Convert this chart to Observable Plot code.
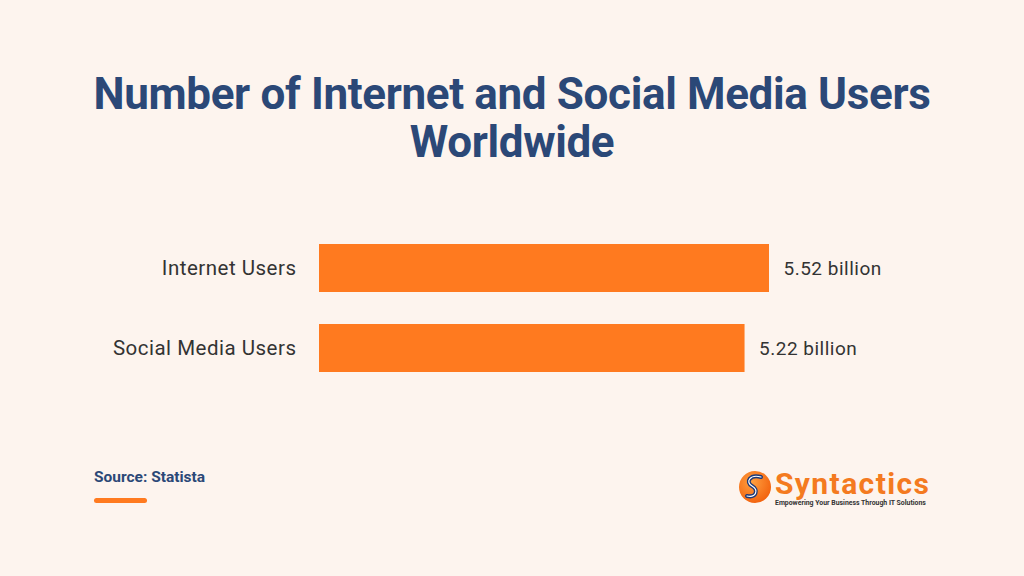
<!DOCTYPE html>
<html>
<head>
<meta charset="utf-8">
<script src="https://cdn.jsdelivr.net/npm/d3@7"></script>
<script src="https://cdn.jsdelivr.net/npm/@observablehq/plot@0.6"></script>
<style>
  html, body { margin: 0; padding: 0; background: #FDF4EE; }
  #page { position: relative; width: 1024px; height: 576px; overflow: hidden; background: #FDF4EE; font-family: Roboto, sans-serif; }
  #title { position: absolute; left: 0; top: 70px; width: 1024px; text-align: center; font-family: Roboto, sans-serif; font-weight: 700; font-size: 44px; line-height: 48px; color: #2B4877; letter-spacing: -0.35px; }
  #chart { position: absolute; left: 0; top: 0; }
  #source { position: absolute; left: 94px; top: 468px; font-family: Roboto, sans-serif; font-weight: 700; font-size: 15.5px; color: #2B4877; }
  #underline { position: absolute; left: 94px; top: 498px; width: 53px; height: 5px; border-radius: 3px; background: #FF7A1F; }
  #logo { position: absolute; left: 736px; top: 464px; }
  #chart text { letter-spacing: 0.5px; }
</style>
</head>
<body>
<div id="page">
  <div id="title">Number of Internet and Social Media Users<br>Worldwide</div>
  <div id="chart"></div>
  <div id="source">Source: Statista</div>
  <div id="underline"></div>
  <svg id="logo" width="220" height="46" viewBox="0 0 220 46">
    <defs>
      <radialGradient id="lg" cx="40%" cy="35%" r="70%">
        <stop offset="0%" stop-color="#FFA040"/>
        <stop offset="100%" stop-color="#F2600C"/>
      </radialGradient>
    </defs>
    <circle cx="19" cy="23" r="16" fill="url(#lg)"/>
    <path d="M25 13 C14 10, 9 18, 16 22 C23 26, 20 34, 11 32" fill="none" stroke="#1E3A78" stroke-width="4" stroke-linecap="round"/>
    <path d="M25 13 C14 10, 9 18, 16 22 C23 26, 20 34, 11 32" fill="none" stroke="#FFFFFF" stroke-width="1.2" stroke-linecap="round"/>
    <text x="39" y="30" font-family="Roboto, sans-serif" font-weight="700" font-size="30" fill="#F47A20" letter-spacing="1.4">Syntactics</text>
    <text x="39" y="41" font-family="Roboto, sans-serif" font-weight="700" font-size="6.9" fill="#333">Empowering Your Business Through IT Solutions</text>
  </svg>
</div>
<script>
const categories = ["Internet Users", "Social Media Users"];
const values = [5.52, 5.22];
const valueLabels = ["5.52 billion", "5.22 billion"];

const data = categories.map((c, i) => ({category: c, value: values[i], label: valueLabels[i]}));

const chart = Plot.plot({
  width: 1024,
  height: 576,
  marginLeft: 319,
  marginRight: 255,
  marginTop: 243,
  marginBottom: 203,
  style: {background: "transparent", fontFamily: "Roboto, sans-serif"},
  x: {domain: [0, 5.52], axis: null},
  y: {domain: categories, paddingInner: 0.395, paddingOuter: 0, label: null},
  marks: [
    Plot.barX(data, {y: "category", x: "value", fill: "#FF7A1F"}),
    Plot.axisY({tickSize: 0, tickPadding: 23, fontSize: 20.5, fill: "#333333", label: null}),
    Plot.text(data, {y: "category", x: "value", text: "label", dx: 14, textAnchor: "start", fontSize: 19, fill: "#333333"})
  ]
});
document.getElementById("chart").appendChild(chart);
</script>
</body>
</html>
